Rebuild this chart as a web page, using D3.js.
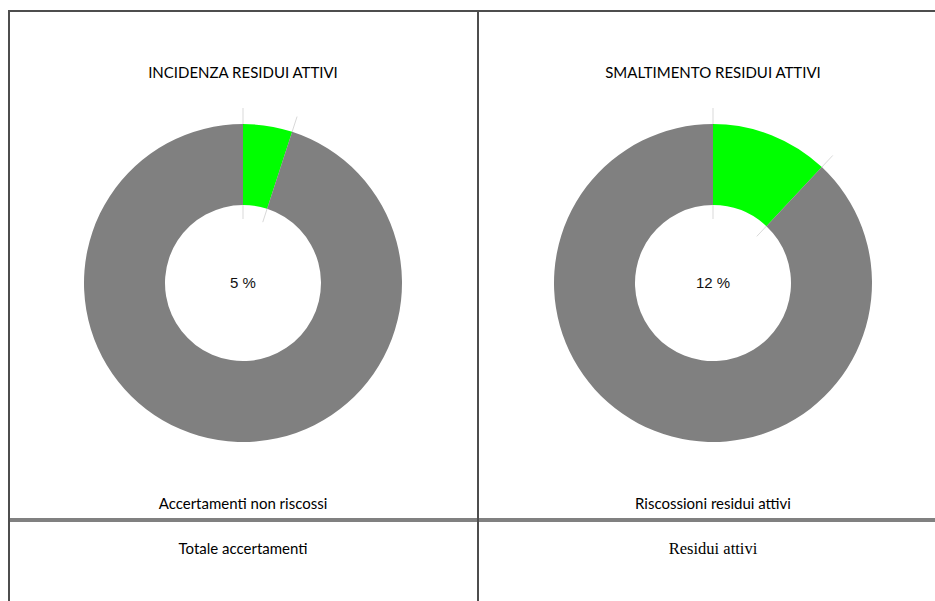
<!DOCTYPE html>
<html>
<head>
<meta charset="utf-8">
<script src="https://cdn.jsdelivr.net/npm/d3@7"></script>
<style>
  html, body { margin: 0; padding: 0; background: #fff; }
  svg { display: block; }
</style>
</head>
<body>
<svg id="chart" width="935" height="601"></svg>
<script>
// ---- data ----
const titles = ["INCIDENZA RESIDUI ATTIVI", "SMALTIMENTO RESIDUI ATTIVI"];
const categories = ["quota", "resto"];
const incidenzaValues = [5, 95];
const smaltimentoValues = [12, 88];
const centerLabels = ["5 %", "12 %"];
const numeratorLabels = ["Accertamenti non riscossi", "Riscossioni residui attivi"];
const denominatorLabels = ["Totale accertamenti", "Residui attivi"];

const seriesList = [incidenzaValues, smaltimentoValues];

const svg = d3.select("#chart");
const W = 935, H = 601;
const colLeft = 9, colMid = 478;
const colCenters = [243, 713];
const cy = 283;
const rOuter = 159, rInner = 78;

const color = d3.scaleOrdinal().domain(categories).range(["#00ff00", "#808080"]);
const pie = d3.pie().sort(null).value(d => d.v);
const arc = d3.arc().innerRadius(rInner).outerRadius(rOuter);

seriesList.forEach((vals, i) => {
  const cx = colCenters[i];
  const data = categories.map((c, k) => ({ c, v: vals[k] }));
  const arcs = pie(data);
  const g = svg.append("g").attr("transform", `translate(${cx},${cy})`);

  // light leader lines at slice boundaries
  const boundaries = [arcs[0].startAngle, arcs[0].endAngle];
  boundaries.forEach(a => {
    g.append("line")
      .attr("x1", Math.sin(a) * 64).attr("y1", -Math.cos(a) * 64)
      .attr("x2", Math.sin(a) * 175).attr("y2", -Math.cos(a) * 175)
      .attr("stroke", "#d9d9d9").attr("stroke-width", 1);
  });

  g.selectAll("path.slice").data(arcs).enter().append("path")
    .attr("class", "slice")
    .attr("d", arc)
    .attr("fill", d => color(d.data.c));

  g.append("text")
    .attr("x", 0).attr("y", 5)
    .attr("text-anchor", "middle")
    .attr("font-family", "Liberation Sans, Arial, sans-serif")
    .attr("font-size", 15)
    .attr("fill", "#111")
    .text(centerLabels[i]);

  svg.append("text")
    .attr("x", cx).attr("y", 78)
    .attr("text-anchor", "middle")
    .attr("font-family", "Lato, sans-serif")
    .attr("font-size", 15)
    .attr("fill", "#000")
    .text(titles[i]);

  svg.append("text")
    .attr("x", cx).attr("y", 509)
    .attr("text-anchor", "middle")
    .attr("font-family", "Lato, sans-serif")
    .attr("font-size", 15)
    .attr("fill", "#000")
    .text(numeratorLabels[i]);

  svg.append("text")
    .attr("x", cx).attr("y", 554)
    .attr("text-anchor", "middle")
    .attr("font-family", i === 0 ? "Lato, sans-serif" : "Liberation Serif, Times New Roman, serif")
    .attr("font-size", i === 0 ? 15 : 16.5)
    .attr("fill", "#000")
    .text(denominatorLabels[i]);
});

// table lines
svg.append("line").attr("x1", 10).attr("x2", W).attr("y1", 520).attr("y2", 520)
  .attr("stroke", "#808080").attr("stroke-width", 4);
svg.append("line").attr("x1", colLeft).attr("x2", W).attr("y1", 11).attr("y2", 11)
  .attr("stroke", "#4d4d4d").attr("stroke-width", 2);
svg.append("line").attr("x1", colLeft).attr("x2", colLeft).attr("y1", 10).attr("y2", H)
  .attr("stroke", "#4d4d4d").attr("stroke-width", 2);
svg.append("line").attr("x1", colMid).attr("x2", colMid).attr("y1", 10).attr("y2", H)
  .attr("stroke", "#4d4d4d").attr("stroke-width", 2);
</script>
</body>
</html>
